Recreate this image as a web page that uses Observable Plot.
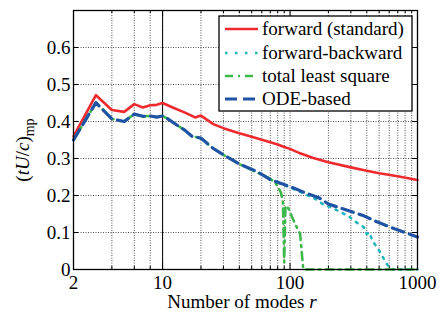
<!DOCTYPE html>
<html>
<head>
<meta charset="utf-8">
<script src="https://cdn.jsdelivr.net/npm/d3@7"></script>
<script src="https://cdn.jsdelivr.net/npm/@observablehq/plot@0.6"></script>
<style>
  html, body { margin: 0; padding: 0; background: white; }
  #chart { width: 438px; height: 314px; }
</style>
</head>
<body>
<div id="chart"></div>
<script>
// ---- data ----
const seriesNames = ["forward (standard)", "forward-backward", "total least square", "ODE-based"];

const fwdR = [2,3,4,5,6,7,8,9,10,12,15,18,20,25,30,40,50,60,70,80,90,100,120,150,200,300,400,500,700,1000];
const fwdV = [0.36,0.471,0.431,0.426,0.447,0.438,0.444,0.445,0.45,0.438,0.424,0.411,0.416,0.393,0.382,0.368,0.359,0.351,0.344,0.338,0.331,0.326,0.314,0.302,0.29,0.276,0.267,0.26,0.252,0.242];

// forward-backward: only visible where it leaves the ODE-based curve
const fbR = [70,100,130,160,180,210,250,290,330,380,400,420,440,480,520,560,600,650,800,1000];
const fbV = [0.243,0.222,0.204,0.19,0.177,0.168,0.155,0.143,0.128,0.114,0.096,0.10,0.08,0.06,0.042,0.02,0.006,0,0,0];

const tlsR = [2,3,4,5,6,7,8,9,10,11,13,15,17,20,22,25,30,40,55,67,75,80,85,88,90,92,95,110,120,127,130,200,500,1000];
const tlsV = [0.35,0.451,0.407,0.40,0.42,0.414,0.415,0.412,0.415,0.407,0.39,0.376,0.36,0.355,0.343,0.327,0.31,0.285,0.262,0.249,0.238,0.225,0.207,0.18,0.02,0.17,0.172,0.122,0.096,0.0,0,0,0,0];

const odeR = [2,3,4,5,6,7,8,9,10,11,13,15,17,20,22,25,30,40,55,70,100,130,170,200,270,380,480,660,890,1000];
const odeV = [0.35,0.451,0.407,0.40,0.42,0.414,0.415,0.412,0.415,0.407,0.39,0.376,0.36,0.355,0.343,0.327,0.31,0.285,0.265,0.243,0.224,0.208,0.193,0.177,0.162,0.145,0.129,0.11,0.094,0.088];

const xTickLabels = [2, 10, 100, 1000];
const yTickLabels = [0, 0.1, 0.2, 0.3, 0.4, 0.5, 0.6];
const xGridMinor = [4,6,8,20,30,40,50,60,70,80,90,200,300,400,500,600,700,800,900];
const xMajor = [10, 100];
const yGrid = [0.1, 0.2, 0.3, 0.4, 0.5, 0.6];

// ---- build ----
const toRows = (R, V) => R.map((r, i) => ({r, v: V[i]}));
const fwd = toRows(fwdR, fwdV);
const fb = toRows(fbR, fbV);
const tls = toRows(tlsR, tlsV);
const ode = toRows(odeR, odeV);

const colors = ["#ee2a2e", "#22b5bb", "#3db84a", "#1f53a3"];
const dashes = [null, "2,6", "8,5,2,5", "12,6"];
const widths = [2.6, 2.6, 2.6, 3.2];

const W = 438, H = 314, mL = 73, mR = 21, mT = 10, mB = 45;
const pW = W - mL - mR, pH = H - mT - mB;
const grid = {stroke: "#000", strokeDasharray: "1,1.5", strokeWidth: 0.8, strokeOpacity: 0.85};

const svg = Plot.plot({
  width: W, height: H,
  marginLeft: mL, marginRight: mR, marginTop: mT, marginBottom: mB,
  style: {fontFamily: "'Liberation Serif', 'Times New Roman', serif", fontSize: "19px", background: "white", color: "black"},
  x: {type: "log", domain: [2, 1000]},
  y: {domain: [0, 0.7]},
  marks: [
    Plot.ruleX(xGridMinor.concat([100, 10]), grid),
    Plot.ruleY(yGrid, grid),
    Plot.ruleX([10], {stroke: "#000", strokeWidth: 1}),
    Plot.axisX({ticks: xTickLabels, tickFormat: d => String(d), tickSize: 0, tickPadding: 6, label: null}),
    Plot.axisY({ticks: yTickLabels, tickFormat: d => String(d), tickSize: 0, tickPadding: 3, label: null}),
    // inside ticks
    Plot.tickX(xGridMinor, {x: d => d, insetTop: pH - 3, stroke: "#000"}),
    Plot.tickX(xGridMinor, {x: d => d, insetBottom: pH - 3, stroke: "#000"}),
    Plot.tickX(xMajor, {x: d => d, insetTop: pH - 6, stroke: "#000"}),
    Plot.tickX(xMajor, {x: d => d, insetBottom: pH - 6, stroke: "#000"}),
    Plot.tickY(yGrid, {y: d => d, insetRight: pW - 5, stroke: "#000"}),
    Plot.tickY(yGrid, {y: d => d, insetLeft: pW - 5, stroke: "#000"}),
    // series
    Plot.line(fwd, {x: "r", y: "v", stroke: colors[0], strokeWidth: widths[0]}),
    Plot.line(fb, {x: "r", y: "v", stroke: colors[1], strokeWidth: widths[1], strokeDasharray: dashes[1]}),
    Plot.line(tls, {x: "r", y: "v", stroke: colors[2], strokeWidth: widths[2], strokeDasharray: dashes[2]}),
    Plot.line(ode, {x: "r", y: "v", stroke: colors[3], strokeWidth: widths[3], strokeDasharray: dashes[3]}),
    Plot.frame({stroke: "#000", strokeWidth: 1.3})
  ]
});

const s = d3.select(svg);
const font = "'Liberation Serif', 'Times New Roman', serif";

// y label
const yl = s.append("text")
  .attr("transform", "translate(29,150) rotate(-90)")
  .attr("text-anchor", "middle")
  .attr("font-family", font).attr("font-size", 19).attr("fill", "#000");
yl.append("tspan").text("(");
yl.append("tspan").attr("font-style", "italic").text("tU");
yl.append("tspan").text("/");
yl.append("tspan").attr("font-style", "italic").text("c");
yl.append("tspan").text(")");
yl.append("tspan").attr("font-size", 14).attr("dy", 5).text("mp");

// x label
const xl = s.append("text")
  .attr("x", 242).attr("y", 308)
  .attr("text-anchor", "middle")
  .attr("font-family", font).attr("font-size", 19).attr("fill", "#000");
xl.append("tspan").text("Number of modes ");
xl.append("tspan").attr("font-style", "italic").text("r");

// legend
const lg = s.append("g");
lg.append("rect").attr("x", 219).attr("y", 16).attr("width", 193).attr("height", 95)
  .attr("fill", "white").attr("stroke", "#000").attr("stroke-width", 1.3);
const rowY = [29, 53, 76, 99];
seriesNames.forEach((name, i) => {
  const ln = lg.append("line").attr("x1", 225).attr("x2", 258).attr("y1", rowY[i]).attr("y2", rowY[i])
    .attr("stroke", colors[i]).attr("stroke-width", widths[i]);
  if (dashes[i]) ln.attr("stroke-dasharray", i === 1 ? "2.5,7.5" : dashes[i]);
  lg.append("text").attr("x", 262).attr("y", rowY[i] + 6)
    .attr("text-anchor", "start")
    .attr("font-family", font).attr("font-size", 19).attr("fill", "#000").text(name);
});

document.getElementById("chart").appendChild(svg);
</script>
</body>
</html>
